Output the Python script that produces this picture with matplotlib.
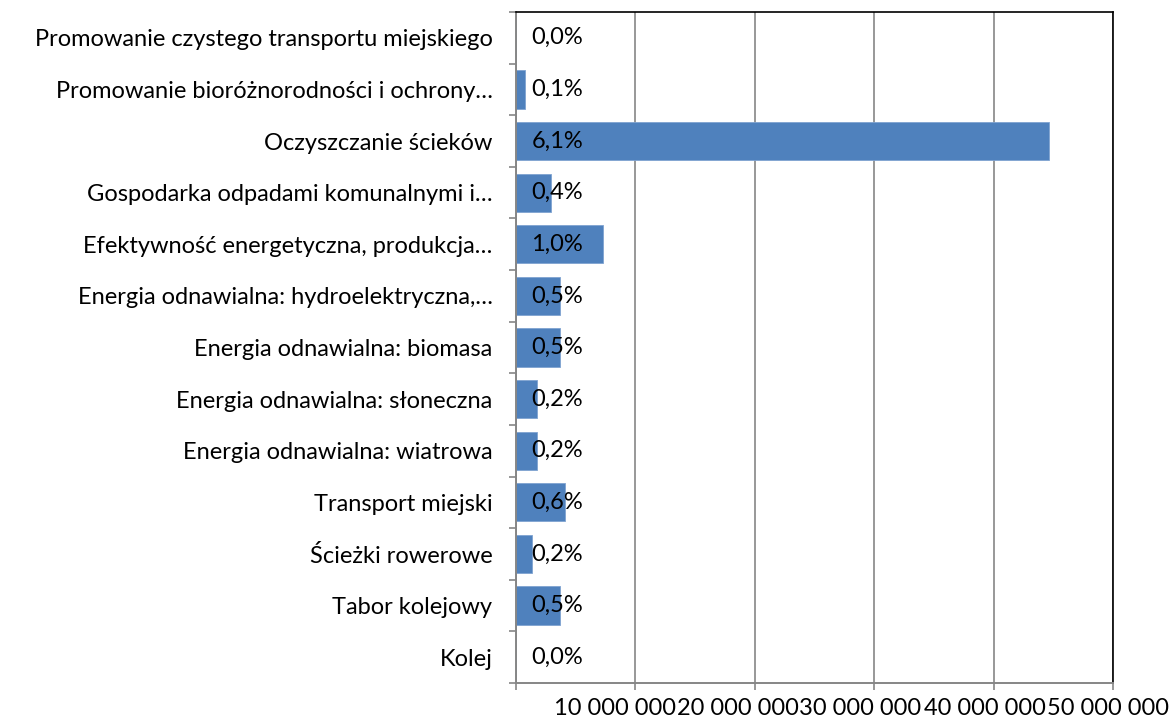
import matplotlib

matplotlib.use("Agg")
import matplotlib.pyplot as plt
import matplotlib.transforms as mtransforms

plt.rcParams["font.family"] = ["Lato", "DejaVu Sans"]

CATEGORIES = [
    "Promowanie czystego transportu miejskiego",
    "Promowanie bioróżnorodności i ochrony…",
    "Oczyszczanie ścieków",
    "Gospodarka odpadami komunalnymi i…",
    "Efektywność energetyczna, produkcja…",
    "Energia odnawialna: hydroelektryczna,…",
    "Energia odnawialna: biomasa",
    "Energia odnawialna: słoneczna",
    "Energia odnawialna: wiatrowa",
    "Transport miejski",
    "Ścieżki rowerowe",
    "Tabor kolejowy",
    "Kolej",
]
VALUES = [0, 750_000, 44_600_000, 2_900_000, 7_300_000, 3_700_000, 3_700_000,
          1_800_000, 1_800_000, 4_100_000, 1_300_000, 3_700_000, 0]
PERCENT_LABELS = ["0,0%", "0,1%", "6,1%", "0,4%", "1,0%", "0,5%", "0,5%",
                  "0,2%", "0,2%", "0,6%", "0,2%", "0,5%", "0,0%"]
X_TICKS = [0, 10_000_000, 20_000_000, 30_000_000, 40_000_000, 50_000_000]
X_TICK_LABELS = ["", "10 000 000", "20 000 000", "30 000 000", "40 000 000", "50 000 000"]

FONT_SIZE = 17
GRID_COLOR = "#868686"

fig = plt.figure(figsize=(11.76, 7.24), dpi=100)
ax = fig.add_axes([516 / 1176, 1 - 683 / 724, (1113 - 516) / 1176, (683 - 12) / 724])

positions = list(range(len(CATEGORIES)))
ax.barh(positions, VALUES, height=0.74, color="#4F81BD", edgecolor="#7FA3D1", linewidth=0.6, zorder=2)

label_offset = mtransforms.offset_copy(ax.transData, fig=fig, x=11, y=0, units="points")
for pos, text in zip(positions, PERCENT_LABELS):
    ax.text(0, pos, text, transform=label_offset, ha="left", va="center",
            fontsize=FONT_SIZE, color="#000000", zorder=3)

ax.set_xlim(0, 50_000_000)
ax.set_ylim(len(CATEGORIES) - 0.5, -0.5)

ax.set_yticks(positions)
ax.set_yticklabels(CATEGORIES, fontsize=FONT_SIZE)
ax.set_yticks([p + 0.5 for p in range(-1, len(CATEGORIES))], minor=True)
ax.tick_params(axis="y", which="major", length=0, pad=17)
ax.tick_params(axis="y", which="minor", length=5, width=1.2, color=GRID_COLOR, direction="out")

ax.set_xticks(X_TICKS)
ax.set_xticklabels(X_TICK_LABELS, fontsize=FONT_SIZE)
ax.tick_params(axis="x", length=5, width=1.2, color=GRID_COLOR, direction="out", pad=6)
# Excel squeezes the overlapping labels slightly to the left
shifts = [0, -15, -12, -10, -6.5, -3.6]
for lab, dx in zip(ax.get_xticklabels(), shifts):
    lab.set_transform(lab.get_transform() + mtransforms.ScaledTranslation(dx / 72, 0, fig.dpi_scale_trans))

ax.grid(axis="x", color=GRID_COLOR, linewidth=1.2, zorder=0)
ax.set_axisbelow(True)

ax.spines["left"].set_color(GRID_COLOR)
ax.spines["bottom"].set_color(GRID_COLOR)
ax.spines["left"].set_linewidth(1.4)
ax.spines["bottom"].set_linewidth(1.4)
ax.spines["top"].set_color("#000000")
ax.spines["right"].set_color("#000000")
ax.spines["top"].set_linewidth(1.2)
ax.spines["right"].set_linewidth(1.2)

fig.savefig("out.png", dpi=100)
